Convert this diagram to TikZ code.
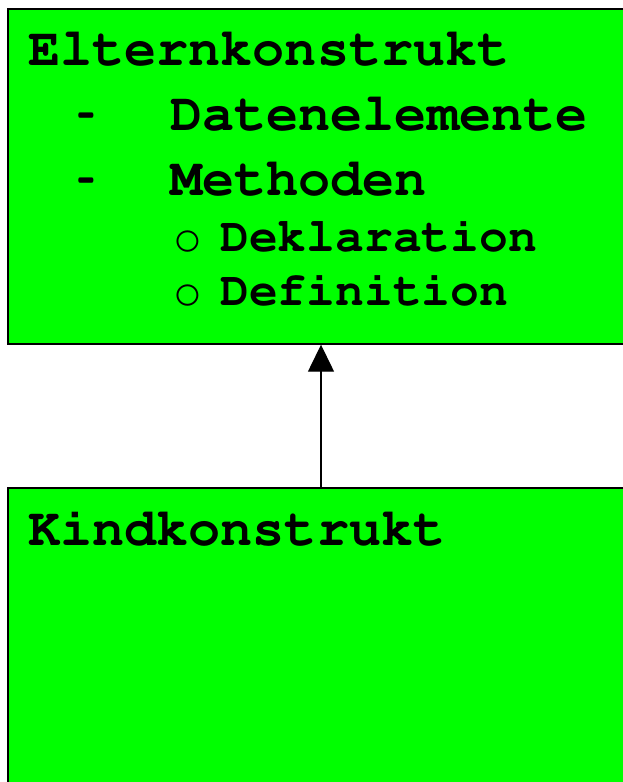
\documentclass[tikz,border=0pt]{standalone}
\usepackage[T1]{fontenc}
\usetikzlibrary{arrows.meta}
\definecolor{boxgreen}{HTML}{00FF00}
\newcommand{\courb}{\fontencoding{T1}\fontfamily{pcr}\fontseries{b}\selectfont}
\newcommand{\courm}{\fontencoding{T1}\fontfamily{pcr}\fontseries{m}\selectfont}
\newcommand{\shorthyph}{\scalebox{0.55}[1]{-}}
\tikzset{
  box/.style={draw=black, line width=1.4pt, fill=boxgreen, rectangle, inner sep=0pt},
  bigtxt/.style={anchor=base west, inner sep=0pt, font=\courb\fontsize{53.5}{60}\selectfont},
  smalltxt/.style={anchor=base west, inner sep=0pt, font=\courb\fontsize{48}{54}\selectfont},
  bullettxt/.style={anchor=base west, inner sep=0pt, font=\courm\fontsize{48}{54}\selectfont},
  inherit/.style={line width=1.4pt, -{Triangle[length=27pt,width=26pt]}}
}
\begin{document}
\begin{tikzpicture}[x=1pt,y=-1pt]
\useasboundingbox (0,0) rectangle (623,782);
\clip (0,0) rectangle (623,782);
\node[box, minimum width=626pt, minimum height=335pt] (parent) at (321,176.5) {};
\node[box, minimum width=626pt, minimum height=340pt] (child) at (321,658) {};
\draw[inherit] (child.north) -- (parent.south);
\node[bigtxt] (t1) at (28,65) {Elternkonstrukt};
\node[bigtxt] (h1) at (77,130) {\shorthyph};
\node[bigtxt] (t2) at (170,130) {Datenelemente};
\node[bigtxt] (h2) at (77,195) {\shorthyph};
\node[bigtxt] (t3) at (170,195) {Methoden};
\node[bullettxt] (b1) at (173,251) {o};
\node[smalltxt] (t4) at (220,251) {Deklaration};
\node[bullettxt] (b2) at (173,305) {o};
\node[smalltxt] (t5) at (220,305) {Definition};
\node[bigtxt] (k1) at (28,545) {Kindkonstrukt};
\end{tikzpicture}
\end{document}
